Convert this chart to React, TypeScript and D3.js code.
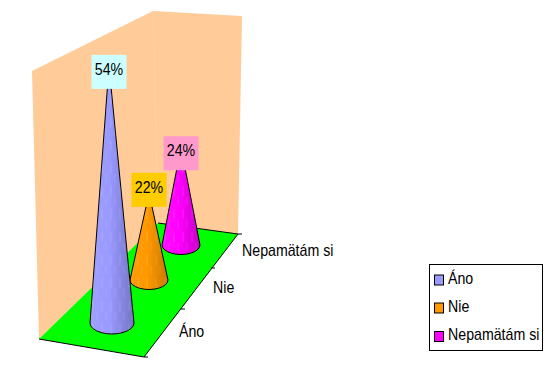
import React from "react";
import * as d3 from "d3";

const categories = ["Áno", "Nie", "Nepamätám si"];
const values = [54, 22, 24];
const valueLabels = ["54%", "22%", "24%"];
const seriesColors = ["#9999FF", "#FF9900", "#FF00FF"];
const darkColors = ["#7474C4", "#C87800", "#C800C8"];
const lightColors = ["#A0A0FF", "#FF9C08", "#FF10FF"];
const labelColors = ["#CCFFFF", "#FFCC00", "#FF99CC"];

const W = 560, H = 367;
// depth index -> screen position of the cone's base centre
const baseX = d3.scaleLinear().domain([0, 1, 2]).range([112, 149, 181]);
const baseY = d3.scaleLinear().domain([0, 1, 2]).range([323, 280, 245]);
const baseR = d3.scaleLinear().domain([0, 1, 2]).range([22, 19, 19]);
// value -> screen height of the cone
const heightScale = d3.scaleLinear().domain([5.6, 60]).range([0, 289]);

const wall: [number, number][] = [[32, 71], [153, 11], [242, 16], [238, 234], [158, 223], [39, 339]];
const floor: [number, number][] = [[39, 339], [158, 223], [238, 234], [144, 357]];
const labelGap = [23, 14, 23];
const apexShift = [-3, 0, 0];
const ticks: [number, number, number, number][] = [[181, 309, 185, 309], [211, 268, 215, 268], [238, 234, 242, 234], [144, 357, 148, 357]];
const axisLabels = [[179, 337], [213, 293], [242, 256]];
const legendRows = [280, 308, 336.5];
const legendBase = [284, 312, 340];

const poly = d3.line();

function conePath(i: number, v: number) {
  const cx = baseX(i), cy = baseY(i), r = baseR(i);
  const apex: [number, number] = [cx + apexShift[i], cy - heightScale(v)];
  const rim = d3.range(0, 13).map((k) => {
    const a = (Math.PI * k) / 12;
    return [cx + r * Math.cos(a), cy + (r * 0.5) * Math.sin(a)] as [number, number];
  });
  return poly([apex, ...rim]) + "Z";
}

function Label({ x, y, children, anchor }: { x: number; y: number; children: string; anchor?: string }) {
  return (
    <text transform={`translate(${x},${y}) scale(0.887,1)`} fontSize={16} fill="#000" textAnchor={anchor}>
      {children}
    </text>
  );
}

export default function App() {
  return (
    <svg width={W} height={H} style={{ position: "absolute", left: 0, top: 0 }} fontFamily="'Liberation Sans', Arial, sans-serif">
      <defs>
        {categories.map((_, i) => (
          <linearGradient key={i} id={`cone${i}`} x1="0" x2="1" y1="0" y2="0">
            <stop offset="0" stopColor={lightColors[i]} />
            <stop offset="0.45" stopColor={seriesColors[i]} />
            <stop offset="1" stopColor={darkColors[i]} />
          </linearGradient>
        ))}
        <pattern id="streak" width="9" height="23" patternUnits="userSpaceOnUse">
          <line x1="3" x2="3" y1="2" y2="12" stroke="#fff" strokeOpacity="0.14" />
          <line x1="7" x2="7" y1="13" y2="21" stroke="#fff" strokeOpacity="0.1" />
        </pattern>
      </defs>
      <rect width={W} height={H} fill="#fff" />
      <path d={poly(wall) + "Z"} fill="#FFCC99" />
      <line x1={153} y1={11} x2={158} y2={223} stroke="#FFD2A6" />
      <path d={poly(floor) + "Z"} fill="#00FF00" />
      <path d={poly([floor[0], floor[3], floor[2]]) || ""} fill="none" stroke="#000" strokeWidth={1} />
      <path d={poly([floor[1], floor[2]]) || ""} fill="none" stroke="#000" strokeWidth={1} />
      {ticks.map((t, i) => (
        <line key={i} x1={t[0]} y1={t[1]} x2={t[2]} y2={t[3]} stroke="#000" />
      ))}
      {categories.map((c, i) => (
        <Label key={c} x={axisLabels[i][0]} y={axisLabels[i][1]}>{c}</Label>
      ))}
      {[2, 1, 0].map((i) => (
        <g key={i}>
          <path d={conePath(i, values[i])} fill={`url(#cone${i})`} stroke="#000" strokeWidth={1} strokeLinejoin="round" />
          <path d={conePath(i, values[i])} fill="url(#streak)" />
        </g>
      ))}
      {[2, 1, 0].map((i) => {
        const apexY = baseY(i) - heightScale(values[i]);
        const cx = baseX(i) + apexShift[i];
        const bottom = apexY + labelGap[i];
        return (
          <g key={i}>
            <rect x={cx - 17.5} y={bottom - 34} width={35} height={34} fill={labelColors[i]} />
            <Label x={cx} y={bottom - 14} anchor="middle">{valueLabels[i]}</Label>
          </g>
        );
      })}
      <rect x={429.5} y={264.5} width={113} height={86} fill="#fff" stroke="#000" />
      {categories.map((c, i) => (
        <g key={c}>
          <rect x={434.5} y={legendRows[i] - 5} width={9} height={10} fill={seriesColors[i]} stroke="#000" />
          <Label x={448} y={legendBase[i]}>{c}</Label>
        </g>
      ))}
    </svg>
  );
}
